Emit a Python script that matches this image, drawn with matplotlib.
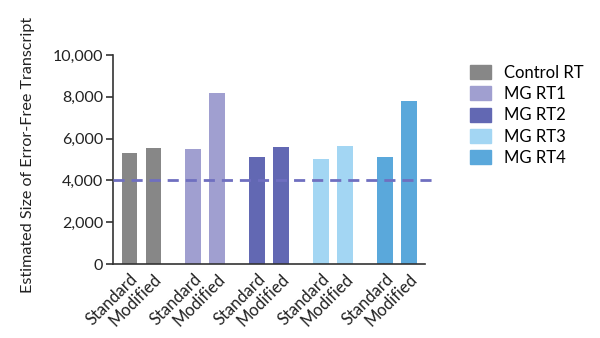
import matplotlib.pyplot as plt
import numpy as np
from matplotlib.patches import Patch

plt.rcParams['font.family'] = ['Lato', 'DejaVu Sans']

# valeurs lues par groupe : (Standard, Modified)
groupes = ['Control RT', 'MG RT1', 'MG RT2', 'MG RT3', 'MG RT4']
standard = [5300, 5520, 5100, 5020, 5110]
modified = [5540, 8200, 5620, 5650, 7790]
couleurs = ['#878787', '#a09fd0', '#6268b3', '#a3d6f3', '#5aa8db']
seuil = 4000

fig = plt.figure(figsize=(6, 3.38), dpi=100)
ax = fig.add_axes([113/600, 1 - 264/338, (425 - 113)/600, (264 - 55)/338])

x = np.arange(len(groupes))
dx = 0.1875
largeur = 0.245
ax.bar(x - dx, standard, largeur, color=couleurs)
ax.bar(x + dx, modified, largeur, color=couleurs)

# ligne pointillée du seuil
ax.plot([-0.444, 4.55], [seuil, seuil], ls=(0, (4, 2.5)), color='#6f6fc0', lw=2,
        clip_on=False, zorder=3)

ax.set_xlim(-0.444, 4.4375)
ax.set_ylim(0, 10000)
ax.set_yticks(np.arange(0, 10001, 2000))
ax.set_yticklabels([f'{v:,}' for v in range(0, 10001, 2000)], fontsize=11.5, color='#222222')
ax.tick_params(axis='y', length=5, width=1.2, pad=2, color='#333333')

pos = np.ravel(np.column_stack([x - dx, x + dx]))
ax.set_xticks(pos)
ax.set_xticklabels(['Standard', 'Modified'] * len(groupes), rotation=45, ha='right',
                   rotation_mode='anchor', fontsize=12, color='#222222')
ax.tick_params(axis='x', length=0, pad=5)

for s in ['top', 'right']:
    ax.spines[s].set_visible(False)
for s in ['left', 'bottom']:
    ax.spines[s].set_linewidth(1.2)
    ax.spines[s].set_color('#333333')

fig.text(28/600, 1 - 155/338, 'Estimated Size of Error-Free Transcript', rotation=90,
         ha='center', va='center', fontsize=11.6, color='#222222')

poignees = [Patch(color=c) for c in couleurs]
fig.legend(poignees, groupes, loc='upper left', bbox_to_anchor=(463/600, 1 - 58/338),
           frameon=False, fontsize=12, handlelength=1.3, handleheight=0.9,
           labelspacing=0.32, handletextpad=0.75, borderaxespad=0)

fig.savefig('out.png', dpi=100)
